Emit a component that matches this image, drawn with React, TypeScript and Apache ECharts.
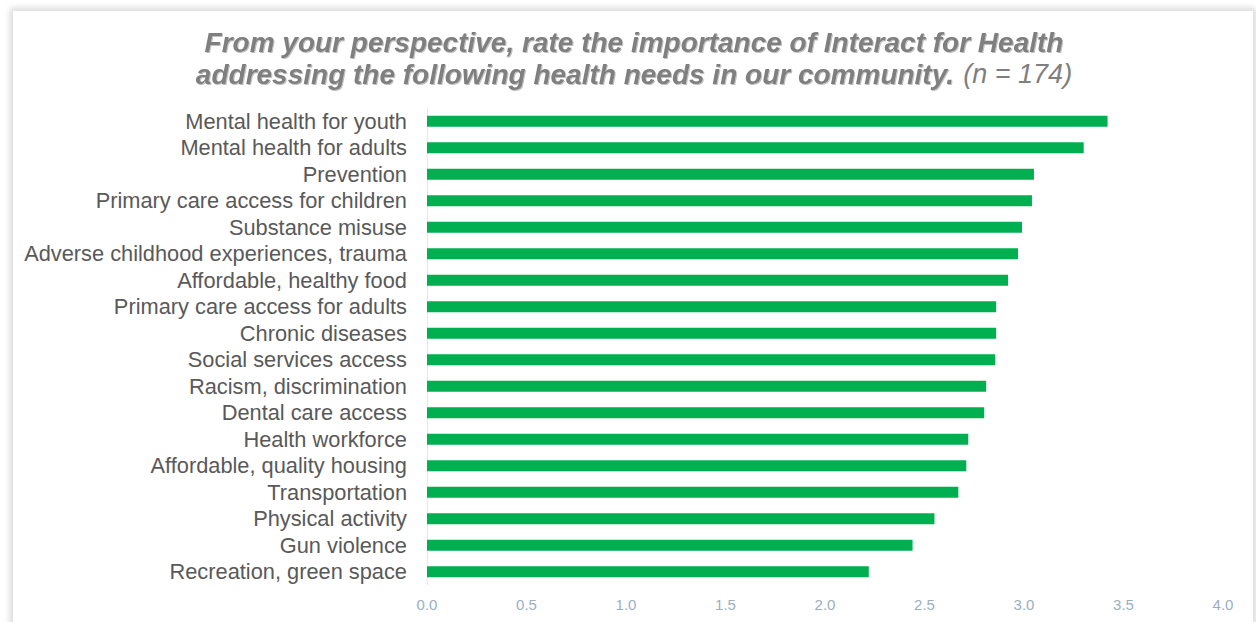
import React, { useEffect, useRef } from "react";
import * as echarts from "echarts";

const categories = [
  "Mental health for youth",
  "Mental health for adults",
  "Prevention",
  "Primary care access for children",
  "Substance misuse",
  "Adverse childhood experiences, trauma",
  "Affordable, healthy food",
  "Primary care access for adults",
  "Chronic diseases",
  "Social services access",
  "Racism, discrimination",
  "Dental care access",
  "Health workforce",
  "Affordable, quality housing",
  "Transportation",
  "Physical activity",
  "Gun violence",
  "Recreation, green space",
];
const values = [3.42, 3.3, 3.05, 3.04, 2.99, 2.97, 2.92, 2.86, 2.86, 2.855, 2.81, 2.8, 2.72, 2.71, 2.67, 2.55, 2.44, 2.22];
const titleLine1 = "From your perspective, rate the importance of Interact for Health";
const titleLine2 = "addressing the following health needs in our community.";
const titleN = "(n = 174)";

const FONT = "Liberation Sans, Arial, sans-serif";

export default function App() {
  const ref = useRef<HTMLDivElement>(null);
  useEffect(() => {
    document.body.style.margin = "0";
    const chart = echarts.init(ref.current!, null, { renderer: "svg" });
    chart.setOption({
      animation: false,
      graphic: [
        {
          type: "text",
          x: 634,
          y: 26,
          style: {
            text: `{b|${titleLine1}}\n{b|${titleLine2}} {n|${titleN}}`,
            align: "center",
            verticalAlign: "top",
            rich: {
              b: {
                fontFamily: FONT,
                fontSize: 28,
                fontWeight: "bold",
                fontStyle: "italic",
                fill: "#7f7f7f",
                color: "#7f7f7f",
                lineHeight: 32,
                textShadowColor: "rgba(0,0,0,0.25)",
                textShadowBlur: 1,
                textShadowOffsetX: 1,
                textShadowOffsetY: 1,
              },
              n: {
                fontFamily: FONT,
                fontSize: 27,
                fontStyle: "italic",
                fill: "#7f7f7f",
                color: "#7f7f7f",
                lineHeight: 32,
                padding: [0, 0, 0, 6],
              },
            },
          },
        },
      ],
      grid: { left: 427, right: 33, top: 108, bottom: 37, containLabel: false },
      xAxis: {
        type: "value",
        min: 0,
        max: 4,
        interval: 0.5,
        axisLine: { show: false },
        axisTick: { show: false },
        splitLine: { show: false },
        axisLabel: {
          formatter: (v: number) => v.toFixed(1),
          color: "#9aafc2",
          fontSize: 15,
          fontFamily: FONT,
          margin: 12,
        },
      },
      yAxis: {
        type: "category",
        data: categories,
        inverse: true,
        axisLine: { show: true, lineStyle: { color: "#e3e8ec", width: 1 } },
        axisTick: { show: false },
        axisLabel: {
          interval: 0,
          color: "#595959",
          fontSize: 21.8,
          fontFamily: FONT,
          margin: 20,
        },
      },
      series: [
        {
          type: "bar",
          data: values,
          barWidth: 11,
          itemStyle: { color: "#00b050" },
        },
      ],
    });
    return () => chart.dispose();
  }, []);
  return (
    <div style={{ position: "relative", width: 1256, height: 622, background: "#ffffff", overflow: "hidden" }}>
      <div
        style={{
          position: "absolute",
          left: 13,
          top: 11,
          width: 1240,
          height: 640,
          background: "#ffffff",
          boxShadow: "0 0 6px 3px rgba(0,0,0,0.15)",
        }}
      />
      <div ref={ref} style={{ position: "absolute", left: 0, top: 0, width: 1256, height: 622 }} />
    </div>
  );
}
